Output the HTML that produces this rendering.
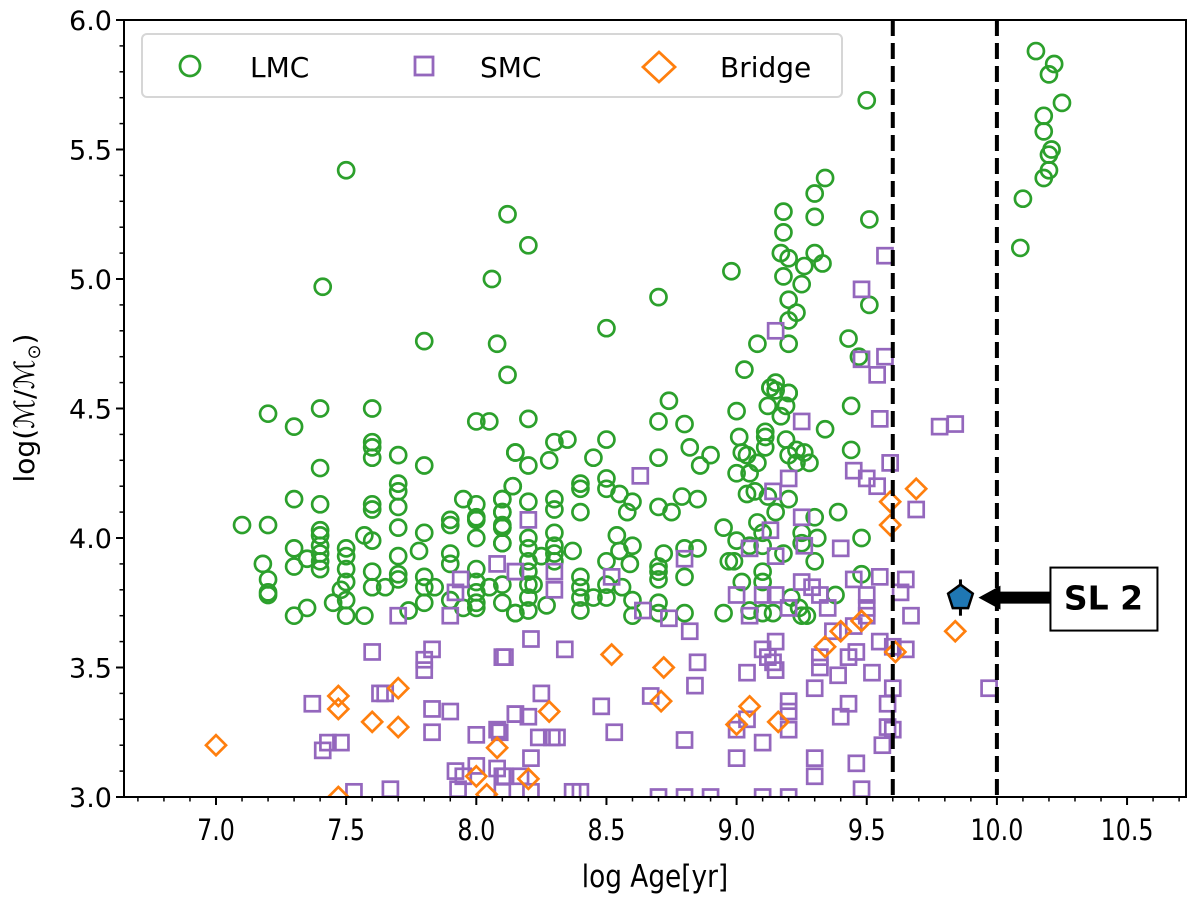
<!DOCTYPE html>
<html><head><meta charset="utf-8"><style>
body{margin:0;background:#fff}
svg text{font-family:"DejaVu Sans","Liberation Sans",sans-serif}
</style></head><body>
<svg id="chart" width="1200" height="900" viewBox="0 0 1200 900" xmlns="http://www.w3.org/2000/svg">
<g id="marks"></g>
<g id="axes"></g>
</svg>
<script>
const lmcX=[10.15,10.22,10.2,10.25,10.18,10.18,10.21,10.2,10.2,10.18,10.1,10.09,9.5,9.34,9.3,9.18,9.3,9.51,9.18,9.17,9.2,9.3,9.26,9.33,8.98,9.18,9.25,8.7,9.2,9.23,9.51,9.2,8.5,9.08,9.2,9.43,9.47,9.03,9.15,9.13,9.2,8.74,7.5,7.41,7.8,8.06,8.12,8.2,8.08,8.12,
7.2,7.3,7.4,7.6,7.4,7.6,7.6,7.6,7.7,7.8,8.0,8.05,8.15,8.14,7.3,7.4,7.6,7.6,7.7,7.7,7.7,7.95,8.0,8.0,8.0,8.1,8.1,8.1,8.1,7.9,7.9,7.1,7.2,7.4,7.4,7.57,7.6,7.7,7.8,8.0,8.1,7.3,7.4,7.4,7.4,7.4,7.5,7.5,7.5,7.35,7.18,7.3,7.7,7.78,7.9,7.9,7.6,7.7,7.7,7.2,7.2,7.2,7.5,7.48,7.6,7.65,7.8,7.8,7.8,7.84,8.0,8.0,8.0,8.0,8.0,7.95,8.05,8.1,8.1,7.9,7.45,7.5,7.35,7.3,7.5,7.57,7.74,8.15,
8.2,8.7,8.8,9.0,9.13,9.15,9.2,9.12,9.19,9.17,9.44,8.3,8.35,8.5,8.15,8.2,8.28,8.45,8.7,8.82,8.9,8.86,9.01,9.11,9.11,9.11,9.19,9.34,9.44,9.02,9.04,9.08,9.2,9.23,9.26,9.28,9.23,9.0,9.05,8.14,8.1,8.1,8.1,8.1,8.2,8.3,8.3,8.4,8.4,8.4,8.5,8.5,8.55,8.6,8.58,8.7,8.75,8.79,8.85,9.04,9.07,9.12,9.2,9.15,9.39,8.95,9.08,9.1,9.3,8.2,8.2,8.2,8.2,8.2,8.2,8.2,8.15,8.3,8.3,8.3,8.3,8.25,8.37,8.4,8.4,8.4,8.4,8.27,8.22,8.45,8.5,8.5,8.5,8.54,8.55,8.56,8.59,8.6,8.6,8.6,8.7,8.7,8.7,8.72,8.7,8.7,8.8,8.85,8.8,8.8,8.95,8.97,8.99,9.0,9.05,9.1,9.1,9.1,9.1,9.02,9.05,9.14,9.18,9.21,9.24,9.25,9.27,9.25,9.25,9.31,9.3,9.48,9.38,9.48];
const lmcY=[5.88,5.83,5.79,5.68,5.63,5.57,5.5,5.48,5.42,5.39,5.31,5.12,5.69,5.39,5.33,5.26,5.24,5.23,5.18,5.1,5.08,5.1,5.05,5.06,5.03,5.01,4.98,4.93,4.92,4.87,4.9,4.84,4.81,4.75,4.75,4.77,4.7,4.65,4.6,4.58,4.56,4.53,5.42,4.97,4.76,5.0,5.25,5.13,4.75,4.63,
4.48,4.43,4.5,4.5,4.27,4.37,4.35,4.31,4.32,4.28,4.45,4.45,4.33,4.2,4.15,4.13,4.13,4.11,4.21,4.18,4.12,4.15,4.13,4.08,4.07,4.15,4.1,4.05,4.04,4.07,4.05,4.05,4.05,4.03,4.01,4.01,3.99,4.04,4.02,4.0,3.98,3.96,3.97,3.94,3.91,3.88,3.96,3.93,3.88,3.92,3.9,3.89,3.93,3.95,3.94,3.9,3.87,3.86,3.84,3.84,3.79,3.78,3.83,3.8,3.81,3.81,3.85,3.81,3.75,3.81,3.88,3.83,3.79,3.75,3.73,3.73,3.81,3.82,3.75,3.76,3.75,3.76,3.73,3.7,3.7,3.7,3.72,3.71,
4.46,4.45,4.44,4.49,4.58,4.57,4.56,4.51,4.51,4.47,4.51,4.37,4.38,4.38,4.33,4.28,4.3,4.31,4.31,4.35,4.32,4.28,4.39,4.41,4.39,4.35,4.38,4.42,4.34,4.33,4.32,4.29,4.32,4.34,4.33,4.29,4.29,4.25,4.25,4.2,4.15,4.1,4.04,3.98,4.14,4.15,4.11,4.21,4.19,4.1,4.23,4.19,4.17,4.14,4.1,4.12,4.1,4.16,4.15,4.17,4.18,4.16,4.15,4.1,4.1,4.04,4.06,4.02,4.08,4.0,3.96,3.91,3.87,3.82,3.77,3.72,3.71,4.02,3.97,3.94,3.91,3.93,3.95,3.85,3.81,3.77,3.72,3.74,3.82,3.77,3.91,3.82,3.77,4.01,3.95,3.81,3.9,3.97,3.76,3.7,3.89,3.87,3.84,3.94,3.75,3.71,3.96,3.96,3.85,3.71,3.71,3.91,3.91,3.99,3.97,3.97,3.87,3.83,3.71,3.83,3.72,3.71,3.94,3.77,3.73,3.7,3.7,4.02,3.98,4.0,3.91,4.0,3.78,3.86];
const smcX=[9.57,9.48,9.15,9.48,9.57,9.54,7.7,7.9,7.94,7.92,8.08,8.15,7.6,7.83,7.8,7.8,8.1,7.37,7.63,7.65,7.83,7.9,8.15,7.83,8.0,8.08,7.43,7.48,7.41,7.92,8.0,8.08,8.1,7.95,7.93,7.53,7.67,8.1,
8.63,9.25,9.55,9.59,9.45,9.5,9.54,9.2,9.14,9.25,9.13,9.05,9.26,9.15,9.4,9.69,8.2,8.8,8.15,8.3,8.3,8.52,8.64,8.74,8.82,9.0,9.05,9.1,9.15,9.2,9.25,9.29,9.32,9.35,9.45,9.55,9.65,9.5,9.5,9.5,9.63,9.67,8.21,8.11,8.34,8.85,8.84,8.67,8.48,8.53,8.8,8.25,8.15,8.2,8.24,8.29,8.31,8.21,8.09,8.11,8.17,8.21,8.37,8.4,8.7,8.8,8.9,9.1,9.2,9.48,9.0,9.1,9.0,9.04,9.04,9.1,9.15,9.14,9.15,9.12,9.2,9.2,9.2,9.3,9.3,9.3,9.32,9.32,9.39,9.43,9.46,9.43,9.4,9.46,9.52,9.55,9.6,9.65,9.6,9.58,9.58,9.6,9.56,9.37,9.45,9.78,9.84,9.97];
const smcY=[5.09,4.96,4.8,4.69,4.7,4.63,3.7,3.7,3.84,3.79,3.9,3.87,3.56,3.57,3.53,3.49,3.54,3.36,3.4,3.4,3.34,3.33,3.32,3.25,3.24,3.26,3.21,3.21,3.18,3.1,3.12,3.11,3.08,3.08,3.03,3.02,3.03,3.02,
4.24,4.45,4.46,4.29,4.26,4.23,4.2,4.23,4.18,4.08,4.03,3.96,3.97,3.93,3.96,4.11,4.07,3.92,3.87,3.87,3.8,3.85,3.72,3.69,3.64,3.78,3.7,3.78,3.78,3.73,3.83,3.81,3.78,3.73,3.84,3.85,3.84,3.78,3.73,3.7,3.79,3.7,3.61,3.54,3.57,3.52,3.43,3.39,3.35,3.25,3.22,3.4,3.32,3.31,3.23,3.23,3.23,3.15,3.25,3.08,3.08,3.02,3.02,3.02,3.0,3.0,3.0,3.0,3.0,3.03,3.15,3.21,3.26,3.3,3.48,3.57,3.6,3.52,3.49,3.54,3.37,3.33,3.26,3.42,3.15,3.08,3.54,3.5,3.47,3.54,3.56,3.36,3.31,3.13,3.48,3.6,3.58,3.57,3.42,3.36,3.27,3.26,3.2,3.64,3.66,4.43,4.44,3.42];
const bridgeX=[7.0,7.47,7.47,7.6,7.7,7.7,8.08,8.0,8.04,7.47,9.69,9.59,9.59,9.48,9.4,9.34,9.61,8.52,8.72,8.71,9.05,9.0,9.16,8.28,8.2,9.84];
const bridgeY=[3.2,3.39,3.34,3.29,3.42,3.27,3.19,3.08,3.01,3.0,4.19,4.14,4.05,3.68,3.64,3.58,3.56,3.55,3.5,3.37,3.35,3.28,3.29,3.33,3.07,3.64];
const xTicks=["7.0","7.5","8.0","8.5","9.0","9.5","10.0","10.5"];
const yTicks=["3.0","3.5","4.0","4.5","5.0","5.5","6.0"];
const vLines=[9.6,10.0];
const sl2X=[9.86], sl2Y=[3.77], sl2Err=[0.07];

const L=124,R=1186,T=20,B=797;
const X=v=>216+(v-7)*260.3;
const Y=v=>797-(v-3)*259;
const NS="http://www.w3.org/2000/svg";
const marks=document.getElementById('marks'), axes=document.getElementById('axes');
function mk(tag,attrs,parent){const e=document.createElementNS(NS,tag);for(const k in attrs)e.setAttribute(k,attrs[k]);parent.appendChild(e);return e;}
const clip=mk('clipPath',{id:'pc'},marks);mk('rect',{x:L,y:T,width:R-L,height:B-T},clip);
const g=mk('g',{'clip-path':'url(#pc)'},marks);
lmcX.forEach((x,i)=>{const e=mk('circle',{cx:X(x),cy:Y(lmcY[i]),r:8,fill:'none',stroke:'#2ca02c','stroke-width':2.7},g);

});
smcX.forEach((x,i)=>{const e=mk('rect',{x:X(x)-7.5,y:Y(smcY[i])-7.5,width:15,height:15,fill:'none',stroke:'#9467bd','stroke-width':2.7},g);

});
bridgeX.forEach((x,i)=>{const cx=X(x),cy=Y(bridgeY[i]);const e=mk('polygon',{points:`${cx},${cy-10} ${cx+10},${cy} ${cx},${cy+10} ${cx-10},${cy}`,fill:'none',stroke:'#ff7f0e','stroke-width':2.7},g);

});
vLines.forEach(v=>{const e=mk('line',{x1:X(v),x2:X(v),y1:T,y2:B,stroke:'#000','stroke-width':4,'stroke-dasharray':'16,7'},g);

});
sl2X.forEach((x,i)=>{const cx=X(x),cy=Y(sl2Y[i]);
const eb=mk('line',{x1:cx,x2:cx,y1:Y(sl2Y[i]+sl2Err[i]),y2:Y(sl2Y[i]-sl2Err[i]),stroke:'#000','stroke-width':3},g);


const pts=[];for(let k=0;k<5;k++){const a=-Math.PI/2+k*2*Math.PI/5;pts.push((cx+13*Math.cos(a)).toFixed(1)+','+(cy+13*Math.sin(a)).toFixed(1));}
const p=mk('polygon',{points:pts.join(' '),fill:'#1f77b4',stroke:'#000','stroke-width':2.5},g);


const ar=mk('polygon',{points:`${cx+18},${cy} ${cx+40},${cy-12} ${cx+40},${cy-6} ${cx+92},${cy-6} ${cx+92},${cy+6} ${cx+40},${cy+6} ${cx+40},${cy+12}`,fill:'#000'},g);


const bx=mk('rect',{x:cx+90,y:cy-30,width:107,height:63,fill:'#fff',stroke:'#000','stroke-width':2},g);


const t=mk('text',{x:cx+143,y:cy+12,'font-size':33,'font-weight':'bold','text-anchor':'middle'},g);t.textContent='SL 2';


});
const fr=mk('rect',{x:L,y:T,width:R-L,height:B-T,fill:'none',stroke:'#000','stroke-width':2},axes);


for(let k=67;k<=107;k++){const v=k/10,x=X(v);if(x<L||x>R)continue;const maj=k%5===0;mk('line',{x1:x,x2:x,y1:B,y2:B+(maj?8:4.5),stroke:'#000','stroke-width':maj?2:1.5},axes);}
xTicks.forEach(s=>{const t=mk('text',{x:X(+s),y:B+43,'font-size':29,'text-anchor':'middle',transform:`translate(${X(+s)},0) scale(0.82,1) translate(${-X(+s)},0)`},axes);t.textContent=s;

});
for(let k=30;k<=60;k++){const v=k/10,y=Y(v);const maj=k%5===0;mk('line',{x1:L,x2:L-(maj?8:4.5),y1:y,y2:y,stroke:'#000','stroke-width':maj?2:1.5},axes);}
yTicks.forEach(s=>{const t=mk('text',{x:L-12,y:Y(+s)+10,'font-size':27,'text-anchor':'end'},axes);t.textContent=s;

});
</script>
<svg style="position:absolute;left:0;top:0" width="1200" height="900">
<text x="655" y="887" font-size="31" text-anchor="middle" font-family="DejaVu Sans, sans-serif" transform="translate(655,0) scale(0.85,1) translate(-655,0)">log Age[yr]</text>
<text transform="translate(34,408) rotate(-90)" font-size="28" text-anchor="middle" font-family="DejaVu Sans, sans-serif">log(<tspan font-style="italic">ℳ</tspan>/<tspan font-style="italic">ℳ</tspan><tspan font-size="18" dy="6">⊙</tspan><tspan dy="-6">)</tspan></text>
<g>
<rect x="142" y="34" width="700" height="63" rx="5" fill="#fff" fill-opacity="0.85" stroke="#d6d6d6" stroke-width="2"/>
<circle cx="190" cy="66" r="10" fill="none" stroke="#2ca02c" stroke-width="2.8"/>
<text x="250" y="77" font-size="28" font-family="DejaVu Sans, sans-serif">LMC</text>
<rect x="415" y="57" width="18" height="18" fill="none" stroke="#9467bd" stroke-width="2.8"/>
<text x="480" y="77" font-size="28" font-family="DejaVu Sans, sans-serif">SMC</text>
<polygon points="659,52 675,67 659,82 643,67" fill="none" stroke="#ff7f0e" stroke-width="2.8"/>
<text x="720" y="77" font-size="28" font-family="DejaVu Sans, sans-serif">Bridge</text>
</g>
</svg>
</body></html>
